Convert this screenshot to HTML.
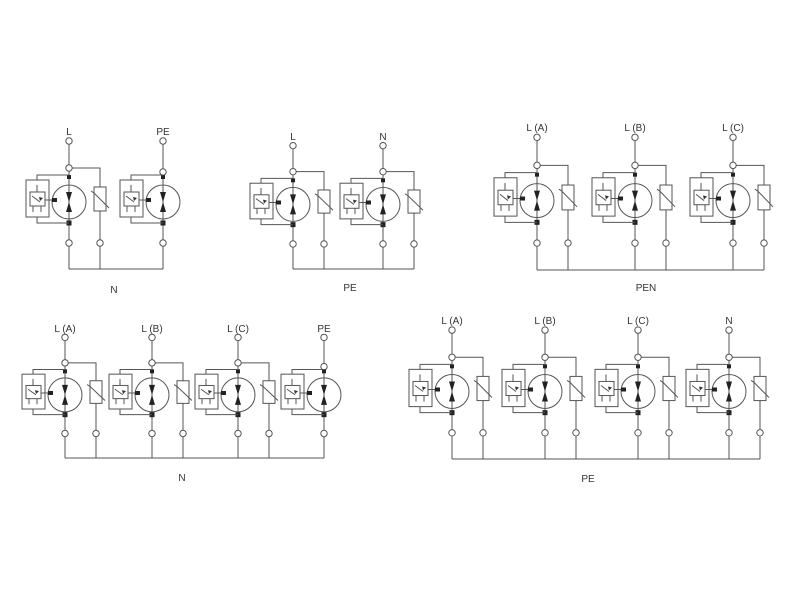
<!DOCTYPE html>
<html><head><meta charset="utf-8"><style>
html,body{margin:0;padding:0;background:#fff;}
svg{display:block}
text{font-family:"Liberation Sans",sans-serif;font-size:10px;fill:#333;}
</style></head><body>
<svg id="s" width="800" height="600" viewBox="0 0 800 600" xmlns="http://www.w3.org/2000/svg"></svg>
<script>
var out=[];
function unit(x,y0,k,label,vari){
  var Y=function(d){return y0+d*k;};
  var st='stroke="#555" stroke-width="1" fill="none"';
  out.push('<text x="'+x+'" y="'+(y0+4)+'" text-anchor="middle" xml:space="preserve">'+label+'</text>');
  var t2=vari?37:41;
  out.push('<line x1="'+x+'" y1="'+Y(13)+'" x2="'+x+'" y2="'+Y(t2-3)+'" '+st+'/>');
  out.push('<circle cx="'+x+'" cy="'+Y(10)+'" r="3.2" fill="#fff" stroke="#555"/>');
  out.push('<line x1="'+x+'" y1="'+Y(t2+3)+'" x2="'+x+'" y2="'+Y(138)+'" '+st+'/>');
  out.push('<circle cx="'+x+'" cy="'+Y(t2)+'" r="3.2" fill="#fff" stroke="#555"/>');
  out.push('<circle cx="'+x+'" cy="'+Y(71)+'" r="17" fill="#fff" stroke="#555"/>');
  var c=Y(71);
  out.push('<line x1="'+x+'" y1="'+(c-17)+'" x2="'+x+'" y2="'+(c+17)+'" '+st+'/>');
  out.push('<polygon points="'+(x-3)+','+(c-10)+' '+(x+3)+','+(c-10)+' '+x+','+c+'" fill="#222"/>');
  out.push('<polygon points="'+(x-3)+','+(c+10)+' '+(x+3)+','+(c+10)+' '+x+','+c+'" fill="#222"/>');
  out.push('<rect x="'+(x-2)+'" y="'+(Y(46)-2)+'" width="4" height="4" fill="#222"/>');
  out.push('<rect x="'+(x-2.5)+'" y="'+(Y(92)-2.5)+'" width="5" height="5" fill="#222"/>');
  out.push('<circle cx="'+x+'" cy="'+Y(112)+'" r="3.2" fill="#fff" stroke="#555"/>');
  var bx=x-43;
  out.push('<polyline points="'+x+','+Y(44)+' '+(x-32)+','+Y(44)+' '+(x-32)+','+Y(49)+'" '+st+'/>');
  out.push('<polyline points="'+x+','+Y(92)+' '+(x-32)+','+Y(92)+' '+(x-32)+','+Y(86)+'" '+st+'/>');
  out.push('<rect x="'+bx+'" y="'+Y(49)+'" width="23" height="'+(37*k)+'" fill="#fff" stroke="#555"/>');
  out.push('<rect x="'+(bx+4)+'" y="'+Y(61)+'" width="15" height="'+(14*k)+'" fill="#fff" stroke="#555"/>');
  out.push('<line x1="'+(bx+11)+'" y1="'+Y(54)+'" x2="'+(bx+11)+'" y2="'+Y(61)+'" '+st+'/>');
  out.push('<line x1="'+(bx+7)+'" y1="'+Y(75)+'" x2="'+(bx+7)+'" y2="'+Y(81)+'" '+st+'/>');
  out.push('<line x1="'+(bx+15)+'" y1="'+Y(75)+'" x2="'+(bx+15)+'" y2="'+Y(81)+'" '+st+'/>');
  out.push('<line x1="'+(bx+6)+'" y1="'+Y(65)+'" x2="'+(bx+14)+'" y2="'+Y(71)+'" '+st+'/>');
  out.push('<polygon points="'+(bx+13)+','+Y(66)+' '+(bx+17)+','+Y(67)+' '+(bx+14)+','+Y(70)+'" fill="#333"/>');
  out.push('<line x1="'+(x-24)+'" y1="'+Y(69)+'" x2="'+(x-17)+'" y2="'+Y(69)+'" '+st+'/>');
  out.push('<rect x="'+(x-17)+'" y="'+(Y(69)-2)+'" width="5" height="4" fill="#222"/>');
  if(vari){
    var vx=x+31;
    out.push('<polyline points="'+(x+3)+','+Y(37)+' '+vx+','+Y(37)+' '+vx+','+Y(56)+'" '+st+'/>');
    out.push('<rect x="'+(vx-6)+'" y="'+Y(56)+'" width="12" height="'+(24*k)+'" fill="#fff" stroke="#555"/>');
    out.push('<polyline points="'+(vx-9)+','+Y(60)+' '+(vx-6)+','+Y(62)+' '+(vx+6)+','+Y(74)+' '+(vx+9)+','+Y(77)+'" '+st+'/>');
    out.push('<line x1="'+vx+'" y1="'+Y(80)+'" x2="'+vx+'" y2="'+Y(109)+'" '+st+'/>');
    out.push('<circle cx="'+vx+'" cy="'+Y(112)+'" r="3.2" fill="#fff" stroke="#555"/>');
    out.push('<line x1="'+vx+'" y1="'+Y(115)+'" x2="'+vx+'" y2="'+Y(138)+'" '+st+'/>');
  }
}
function diag(xs,labels,varis,y0,span,bl,blx,bly){
  var k=span/138;
  out.push('<line x1="'+xs[0]+'" y1="'+(y0+span)+'" x2="'+(varis[varis.length-1]?xs[xs.length-1]+31:xs[xs.length-1])+'" y2="'+(y0+span)+'" stroke="#555"/>');
  for(var i=0;i<xs.length;i++)unit(xs[i],y0,k,labels[i],varis[i]);
  out.push('<text x="'+blx+'" y="'+bly+'" text-anchor="middle">'+bl+'</text>');
}
diag([69,163],['L','PE'],[1,0],131,138,'N',114,293);
diag([293,383],['L','N'],[1,1],136,133,'PE',350,291);
diag([537,635,733],['L (A)','L (B)','L (C)'],[1,1,1],127,143,'PEN',646,291);
diag([65,152,238,324],['L (A)','L (B)','L (C)','PE'],[1,1,1,0],328,130,'N',182,481);
diag([452,545,638,729],['L (A)','L (B)','L (C)','N'],[1,1,1,1],320,139,'PE',588,482);
document.getElementById('s').innerHTML=out.join('');
</script>
</body></html>
